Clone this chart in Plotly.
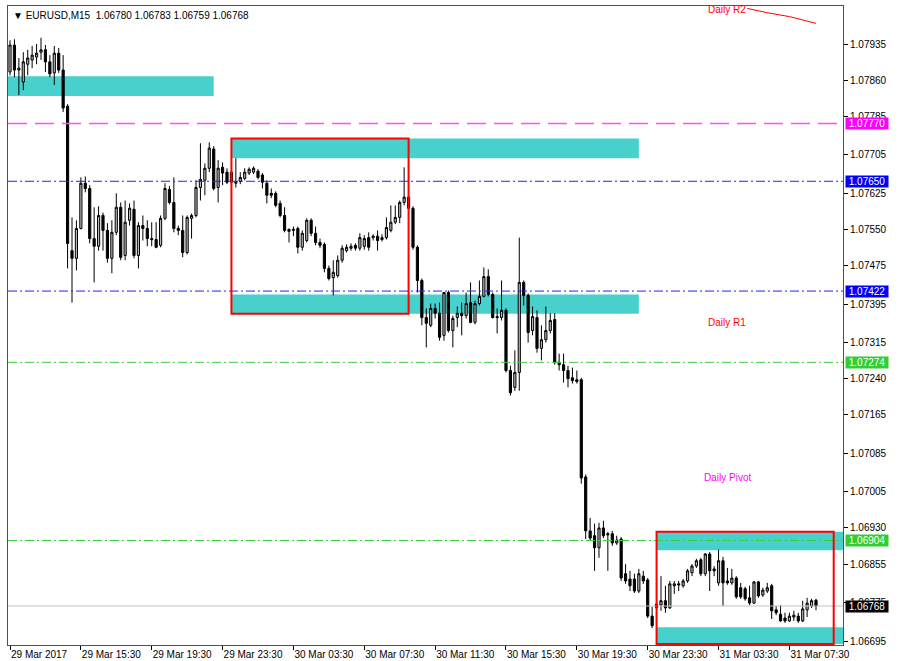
import pandas as pd
import plotly.graph_objects as go

title_text = "\u25bc EURUSD,M15\u00a0\u00a01.06780 1.06783 1.06759 1.06768"
start_time = "2017-03-29 11:30"

open_ = [1.07877, 1.07933, 1.07881, 1.07856, 1.07893, 1.07902, 1.07908, 1.07918, 1.07923, 1.07898,
         1.07875, 1.07916, 1.07881, 1.07806, 1.07506, 1.07490, 1.07552, 1.07646, 1.07635, 1.07531,
         1.07515, 1.07579, 1.07548, 1.07490, 1.07544, 1.07596, 1.07496, 1.07569, 1.07592, 1.07496,
         1.07558, 1.07552, 1.07531, 1.07529, 1.07517, 1.07573, 1.07633, 1.07606, 1.07552, 1.07548,
         1.07502, 1.07573, 1.07579, 1.07637, 1.07652, 1.07677, 1.07717, 1.07637, 1.07679, 1.07669,
         1.07669, 1.07646, 1.07650, 1.07656, 1.07667, 1.07669, 1.07671, 1.07663, 1.07646, 1.07625,
         1.07625, 1.07604, 1.07579, 1.07550, 1.07548, 1.07552, 1.07513, 1.07527, 1.07569, 1.07542,
         1.07523, 1.07519, 1.07469, 1.07450, 1.07454, 1.07486, 1.07506, 1.07511, 1.07517, 1.07511,
         1.07515, 1.07533, 1.07533, 1.07536, 1.07529, 1.07533, 1.07548, 1.07565, 1.07575, 1.07606,
         1.07617, 1.07594, 1.07513, 1.07444, 1.07367, 1.07351, 1.07386, 1.07376, 1.07330, 1.07419,
         1.07340, 1.07367, 1.07376, 1.07371, 1.07398, 1.07357, 1.07396, 1.07411, 1.07452, 1.07415,
         1.07369, 1.07367, 1.07382, 1.07257, 1.07222, 1.07253, 1.07440, 1.07413, 1.07340, 1.07367,
         1.07303, 1.07321, 1.07340, 1.07363, 1.07274, 1.07269, 1.07257, 1.07242, 1.07238, 1.07238,
         1.07036, 1.06924, 1.06914, 1.06889, 1.06930, 1.06918, 1.06918, 1.06899, 1.06907, 1.06835,
         1.06824, 1.06824, 1.06799, 1.06830, 1.06822, 1.06747, 1.06764, 1.06770, 1.06779, 1.06764,
         1.06810, 1.06814, 1.06810, 1.06820, 1.06837, 1.06851, 1.06864, 1.06835, 1.06876, 1.06845,
         1.06816, 1.06862, 1.06820, 1.06816, 1.06826, 1.06806, 1.06804, 1.06785, 1.06774, 1.06818,
         1.06791, 1.06799, 1.06810, 1.06760, 1.06751, 1.06743, 1.06737, 1.06745, 1.06747, 1.06737,
         1.06760, 1.06768, 1.06780]

high = [1.07943, 1.07945, 1.07906, 1.07918, 1.07923, 1.07931, 1.07935, 1.07948, 1.07933, 1.07912,
        1.07931, 1.07927, 1.07912, 1.07810, 1.07575, 1.07569, 1.07658, 1.07660, 1.07642, 1.07596,
        1.07598, 1.07585, 1.07563, 1.07569, 1.07625, 1.07606, 1.07610, 1.07604, 1.07610, 1.07565,
        1.07579, 1.07569, 1.07565, 1.07565, 1.07579, 1.07646, 1.07640, 1.07658, 1.07558, 1.07579,
        1.07579, 1.07583, 1.07652, 1.07729, 1.07687, 1.07731, 1.07723, 1.07694, 1.07689, 1.07677,
        1.07673, 1.07698, 1.07669, 1.07677, 1.07679, 1.07681, 1.07675, 1.07667, 1.07652, 1.07635,
        1.07629, 1.07610, 1.07596, 1.07552, 1.07556, 1.07556, 1.07548, 1.07573, 1.07573, 1.07556,
        1.07531, 1.07523, 1.07475, 1.07486, 1.07496, 1.07517, 1.07519, 1.07521, 1.07521, 1.07542,
        1.07538, 1.07544, 1.07540, 1.07548, 1.07540, 1.07575, 1.07600, 1.07600, 1.07610, 1.07679,
        1.07621, 1.07598, 1.07517, 1.07448, 1.07386, 1.07396, 1.07396, 1.07398, 1.07419, 1.07423,
        1.07371, 1.07390, 1.07398, 1.07419, 1.07440, 1.07402, 1.07444, 1.07471, 1.07467, 1.07419,
        1.07386, 1.07444, 1.07386, 1.07267, 1.07299, 1.07533, 1.07444, 1.07417, 1.07390, 1.07382,
        1.07351, 1.07390, 1.07376, 1.07376, 1.07292, 1.07292, 1.07267, 1.07263, 1.07257, 1.07242,
        1.07041, 1.06951, 1.06939, 1.06941, 1.06945, 1.06922, 1.06924, 1.06914, 1.06911, 1.06855,
        1.06841, 1.06835, 1.06845, 1.06841, 1.06826, 1.06766, 1.06826, 1.06830, 1.06810, 1.06820,
        1.06820, 1.06820, 1.06824, 1.06845, 1.06855, 1.06866, 1.06868, 1.06878, 1.06880, 1.06851,
        1.06885, 1.06870, 1.06847, 1.06845, 1.06830, 1.06816, 1.06808, 1.06810, 1.06820, 1.06820,
        1.06806, 1.06816, 1.06814, 1.06768, 1.06770, 1.06754, 1.06754, 1.06758, 1.06754, 1.06779,
        1.06785, 1.06783, 1.06783]

low = [1.07870, 1.07866, 1.07829, 1.07839, 1.07870, 1.07885, 1.07893, 1.07902, 1.07877, 1.07866,
       1.07850, 1.07875, 1.07794, 1.07469, 1.07398, 1.07465, 1.07550, 1.07627, 1.07521, 1.07440,
       1.07506, 1.07506, 1.07481, 1.07459, 1.07538, 1.07486, 1.07486, 1.07558, 1.07490, 1.07469,
       1.07527, 1.07515, 1.07515, 1.07511, 1.07513, 1.07569, 1.07602, 1.07544, 1.07538, 1.07492,
       1.07498, 1.07531, 1.07575, 1.07610, 1.07621, 1.07669, 1.07631, 1.07606, 1.07642, 1.07644,
       1.07640, 1.07637, 1.07644, 1.07652, 1.07663, 1.07665, 1.07654, 1.07635, 1.07604, 1.07615,
       1.07596, 1.07575, 1.07544, 1.07523, 1.07536, 1.07500, 1.07506, 1.07523, 1.07536, 1.07517,
       1.07511, 1.07461, 1.07444, 1.07413, 1.07450, 1.07481, 1.07502, 1.07506, 1.07506, 1.07506,
       1.07508, 1.07506, 1.07527, 1.07506, 1.07525, 1.07529, 1.07544, 1.07561, 1.07563, 1.07600,
       1.07585, 1.07508, 1.07419, 1.07351, 1.07305, 1.07347, 1.07365, 1.07319, 1.07319, 1.07336,
       1.07305, 1.07347, 1.07330, 1.07365, 1.07355, 1.07353, 1.07392, 1.07409, 1.07411, 1.07365,
       1.07334, 1.07361, 1.07253, 1.07205, 1.07215, 1.07215, 1.07392, 1.07315, 1.07330, 1.07294,
       1.07278, 1.07315, 1.07334, 1.07269, 1.07257, 1.07232, 1.07222, 1.07230, 1.07230, 1.07022,
       1.06907, 1.06903, 1.06841, 1.06868, 1.06909, 1.06841, 1.06893, 1.06895, 1.06820, 1.06814,
       1.06799, 1.06795, 1.06795, 1.06814, 1.06743, 1.06722, 1.06758, 1.06758, 1.06754, 1.06762,
       1.06793, 1.06799, 1.06806, 1.06816, 1.06830, 1.06847, 1.06830, 1.06830, 1.06799, 1.06830,
       1.06810, 1.06768, 1.06812, 1.06812, 1.06783, 1.06783, 1.06779, 1.06770, 1.06772, 1.06785,
       1.06787, 1.06795, 1.06741, 1.06749, 1.06735, 1.06733, 1.06735, 1.06737, 1.06733, 1.06735,
       1.06745, 1.06764, 1.06759]

close = [1.07933, 1.07881, 1.07885, 1.07898, 1.07906, 1.07912, 1.07916, 1.07923, 1.07898, 1.07873,
         1.07916, 1.07881, 1.07802, 1.07521, 1.07490, 1.07552, 1.07646, 1.07635, 1.07531, 1.07515,
         1.07579, 1.07548, 1.07490, 1.07544, 1.07596, 1.07492, 1.07565, 1.07594, 1.07496, 1.07558,
         1.07552, 1.07531, 1.07529, 1.07513, 1.07573, 1.07635, 1.07606, 1.07552, 1.07548, 1.07502,
         1.07575, 1.07579, 1.07637, 1.07654, 1.07677, 1.07719, 1.07635, 1.07677, 1.07667, 1.07648,
         1.07648, 1.07648, 1.07658, 1.07669, 1.07675, 1.07677, 1.07658, 1.07648, 1.07621, 1.07621,
         1.07600, 1.07579, 1.07548, 1.07546, 1.07550, 1.07513, 1.07542, 1.07569, 1.07542, 1.07523,
         1.07517, 1.07469, 1.07448, 1.07461, 1.07486, 1.07511, 1.07513, 1.07515, 1.07511, 1.07533,
         1.07531, 1.07513, 1.07536, 1.07527, 1.07533, 1.07554, 1.07565, 1.07575, 1.07606, 1.07617,
         1.07594, 1.07513, 1.07444, 1.07367, 1.07355, 1.07386, 1.07376, 1.07326, 1.07419, 1.07340,
         1.07365, 1.07376, 1.07371, 1.07396, 1.07357, 1.07396, 1.07411, 1.07452, 1.07415, 1.07367,
         1.07367, 1.07382, 1.07257, 1.07211, 1.07253, 1.07440, 1.07413, 1.07336, 1.07369, 1.07303,
         1.07321, 1.07340, 1.07361, 1.07274, 1.07269, 1.07257, 1.07240, 1.07236, 1.07234, 1.07034,
         1.06924, 1.06909, 1.06889, 1.06930, 1.06914, 1.06916, 1.06899, 1.06905, 1.06826, 1.06820,
         1.06810, 1.06799, 1.06835, 1.06820, 1.06747, 1.06727, 1.06772, 1.06779, 1.06764, 1.06814,
         1.06814, 1.06812, 1.06820, 1.06841, 1.06851, 1.06862, 1.06835, 1.06876, 1.06841, 1.06841,
         1.06862, 1.06816, 1.06816, 1.06826, 1.06787, 1.06787, 1.06783, 1.06774, 1.06818, 1.06789,
         1.06801, 1.06806, 1.06758, 1.06754, 1.06737, 1.06737, 1.06747, 1.06749, 1.06737, 1.06762,
         1.06774, 1.06779, 1.06768]

x_tick_labels = ["29 Mar 2017", "29 Mar 15:30", "29 Mar 19:30", "29 Mar 23:30", "30 Mar 03:30",
                 "30 Mar 07:30", "30 Mar 11:30", "30 Mar 15:30", "30 Mar 19:30", "30 Mar 23:30",
                 "31 Mar 03:30", "31 Mar 07:30"]
y_tick_values = [1.07935, 1.07860, 1.07785, 1.07705, 1.07625, 1.07550, 1.07475, 1.07395, 1.07315,
                 1.07240, 1.07165, 1.07085, 1.07005, 1.06930, 1.06855, 1.06775, 1.06695]

level_prices = [1.07770, 1.07650, 1.07422, 1.07274, 1.06904]
level_colors = ["#FF4DFF", "#2222FF", "#2222FF", "#3CCF3C", "#3CCF3C"]
level_widths = [1.5, 1, 1, 1, 1]
level_dash = ["19px,8px", "9px,3px,2px,3px", "9px,3px,2px,3px", "9px,3px,2px,3px", "9px,3px,2px,3px"]
bid_price = 1.06768

zone_start = ["2017-03-29 10:00", "2017-03-30 00:00", "2017-03-30 00:00", "2017-03-31 00:00", "2017-03-31 00:00"]
zone_end = ["2017-03-29 23:00", "2017-03-30 23:00", "2017-03-30 23:00", "2017-03-31 12:00", "2017-03-31 12:00"]
zone_top = [1.07868, 1.07739, 1.07415, 1.06922, 1.06724]
zone_bottom = [1.07827, 1.07698, 1.07375, 1.06884, 1.06689]

box_start = ["2017-03-30 00:00", "2017-03-31 00:00"]
box_end = ["2017-03-30 10:00", "2017-03-31 10:00"]
box_top = [1.07739, 1.06922]
box_bottom = [1.07375, 1.06689]

pivot_labels = ["Daily R2", "Daily R1", "Daily Pivot"]
pivot_label_prices = [1.08006, 1.07357, 1.07034]
pivot_label_colors = ["#FF0000", "#FF0000", "#FF00FF"]
pivot_label_time = "2017-03-31 04:00"

r2_times = ["2017-03-31 05:07", "2017-03-31 06:15", "2017-03-31 07:30", "2017-03-31 09:00"]
r2_values = [1.08009, 1.08000, 1.07992, 1.07978]

FONT = "Liberation Sans, Arial, DejaVu Sans, sans-serif"

times = pd.date_range(start_time, periods=len(close), freq="15min")
bar = pd.Timedelta(minutes=15)
x_range = [times[0] - 0.452 * bar, times[0] + 188.1 * bar]

fig = go.Figure()
# horizontal levels (drawn under the candles)
for p, c, w, d in zip(level_prices, level_colors, level_widths, level_dash):
    fig.add_trace(go.Scatter(x=x_range, y=[p, p], mode="lines",
                             line=dict(color=c, width=w, dash=d),
                             hoverinfo="skip", showlegend=False))
fig.add_trace(go.Scatter(x=x_range, y=[bid_price, bid_price], mode="lines",
                         line=dict(color="#C0C0C0", width=1), hoverinfo="skip", showlegend=False))

fig.add_trace(go.Candlestick(
    x=times, open=open_, high=high, low=low, close=close,
    increasing=dict(line=dict(color="#000000", width=1), fillcolor="#B8B8B8"),
    decreasing=dict(line=dict(color="#000000", width=1), fillcolor="#000000"),
    whiskerwidth=0, hoverinfo="skip", showlegend=False,
))
fig.add_trace(go.Scatter(x=r2_times, y=r2_values, mode="lines",
                         line=dict(color="#FF0000", width=1), hoverinfo="skip", showlegend=False))

shapes = []
for s, e, t, b in zip(zone_start, zone_end, zone_top, zone_bottom):
    shapes.append(dict(type="rect", xref="x", yref="y", x0=s, x1=e, y0=b, y1=t,
                       fillcolor="#48D1CC", line=dict(width=0), layer="below"))
for s, e, t, b in zip(box_start, box_end, box_top, box_bottom):
    shapes.append(dict(type="rect", xref="x", yref="y", x0=s, x1=e, y0=b, y1=t,
                       fillcolor="rgba(0,0,0,0)", line=dict(color="#FF0000", width=2), layer="above"))

annotations = [dict(xref="paper", yref="paper", x=0, y=1, xanchor="left", yanchor="top",
                    xshift=3, yshift=-2, text=title_text, showarrow=False,
                    font=dict(family=FONT, size=10, color="#000000"))]
for txt, p, c in zip(pivot_labels, pivot_label_prices, pivot_label_colors):
    annotations.append(dict(xref="x", yref="y", x=pivot_label_time, y=p, text=txt, showarrow=False,
                            font=dict(family=FONT, size=10, color=c)))
tag_prices = level_prices + [bid_price]
tag_colors = ["#FF00FF", "#0000FF", "#0000FF", "#32CD32", "#32CD32", "#000000"]
for p, c in zip(tag_prices, tag_colors):
    annotations.append(dict(xref="paper", yref="y", x=1, y=p, xanchor="left", yanchor="middle",
                            xshift=2, text=f"\u00a0{p:.5f}\u00a0", showarrow=False, bgcolor=c,
                            borderpad=0,
                            font=dict(family=FONT, size=10, color="#FFFFFF")))

fig.update_layout(
    width=900, height=661,
    margin=dict(l=8, r=57, t=6, b=16, autoexpand=False),
    paper_bgcolor="#FFFFFF", plot_bgcolor="#FFFFFF",
    shapes=shapes, annotations=annotations,
    showlegend=False,
    xaxis=dict(type="date", range=x_range, rangeslider=dict(visible=False), automargin=False,
               showgrid=False, zeroline=False, showline=True, linecolor="#505050", linewidth=1,
               mirror=True, ticks="outside", ticklen=4, tickcolor="#000000",
               tickvals=list(times[::16]), ticktext=x_tick_labels,
               ticklabelposition="outside right",
               tickfont=dict(family=FONT, size=10, color="#000000")),
    yaxis=dict(side="right", range=[1.06687, 1.08014], showgrid=False, zeroline=False,
               automargin=False,
               showline=True, linecolor="#505050", linewidth=1, mirror=True,
               ticks="outside", ticklen=4, tickcolor="#000000",
               tickvals=y_tick_values, ticktext=[f"{v:.5f}" for v in y_tick_values],
               tickfont=dict(family=FONT, size=10, color="#000000")),
)

fig.write_html("out.html", config={"displayModeBar": False},
               post_script="document.body.style.margin='0';document.body.style.overflow='hidden';")
